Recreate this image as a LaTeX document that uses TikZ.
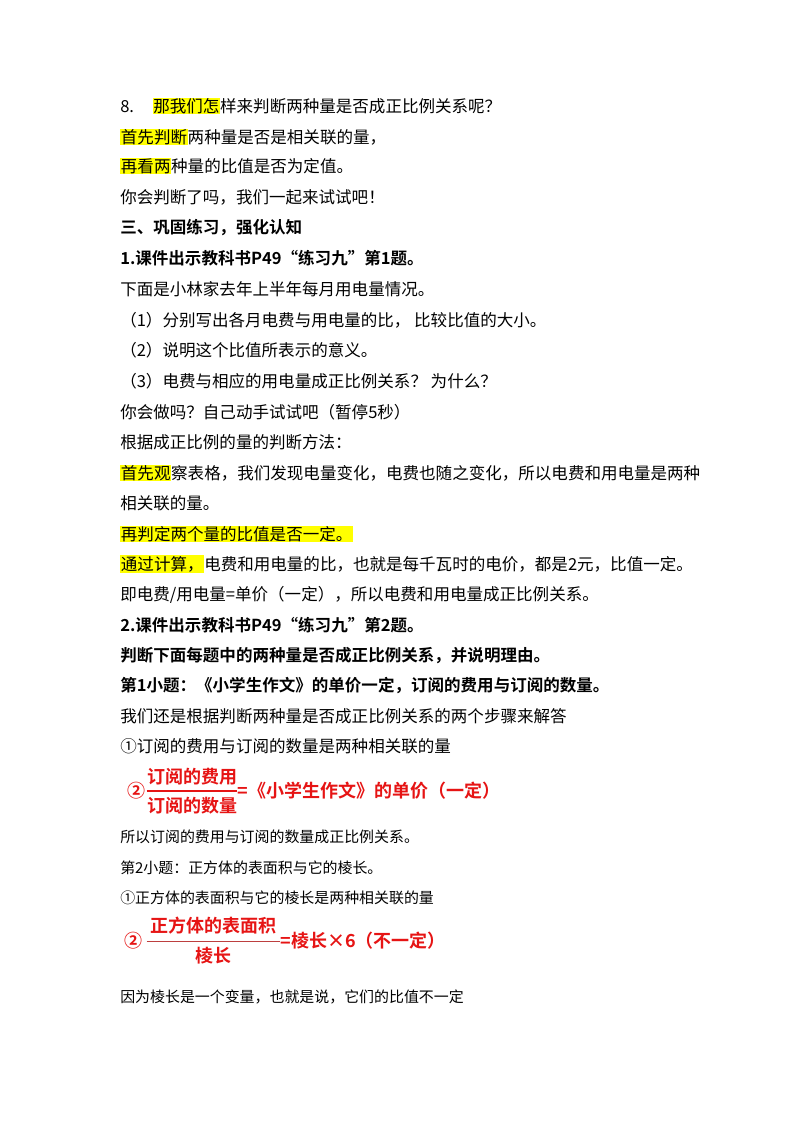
\documentclass[tikz,border=0pt]{standalone}
\usepackage{fontspec}
\usepackage{xcolor}
\setmainfont{Noto Sans CJK SC}
\newfontfamily\cjkb{Noto Sans CJK SC Bold}
\definecolor{hl}{RGB}{255,255,0}
\definecolor{rd}{RGB}{230,20,20}
\setlength{\fboxsep}{0.5pt}
\newcommand{\hlt}[1]{\colorbox{hl}{#1}}
\tikzset{ln/.style={anchor=west,inner sep=0pt,font=\fontsize{12.4}{14}\selectfont},
 bl/.style={ln,font=\fontsize{12.4}{14}\selectfont\cjkb},
 sm/.style={ln,font=\fontsize{11.2}{13}\selectfont},
 rf/.style={inner sep=0pt,text=rd,font=\fontsize{13.5}{15}\selectfont\cjkb}}
\begin{document}
\begin{tikzpicture}[x=0.75pt,y=-0.75pt]
\useasboundingbox (0,0) rectangle (800,1132);
\fill[white] (0,0) rectangle (800,1132);
\node[ln] (l1) at (120,106) {8.\hspace{14pt}\hlt{那我们怎}样来判断两种量是否成正比例关系呢？};
\node[ln] (l2) at (120,137) {\hlt{首先判断}两种量是否是相关联的量，};
\node[ln] (l3) at (120,166) {\hlt{再看两}种量的比值是否为定值。};
\node[ln] (l4) at (120,197) {你会判断了吗，我们一起来试试吧！};
\node[bl] (l5) at (120,228) {三、巩固练习，强化认知};
\node[bl] (l6) at (120,258) {1.课件出示教科书P49“练习九”第1题。};
\node[ln] (l7) at (120,289) {下面是小林家去年上半年每月用电量情况。};
\node[ln] (l8) at (120,320) {（1）分别写出各月电费与用电量的比， 比较比值的大小。};
\node[ln] (l9) at (120,350) {（2）说明这个比值所表示的意义。};
\node[ln] (l10) at (120,381) {（3）电费与相应的用电量成正比例关系？ 为什么？};
\node[ln] (l11) at (120,412) {你会做吗？自己动手试试吧（暂停5秒）};
\node[ln] (l12) at (120,442) {根据成正比例的量的判断方法：};
\node[ln] (l13) at (120,473) {\hlt{首先观}察表格，我们发现电量变化，电费也随之变化，所以电费和用电量是两种};
\node[ln] (l14) at (120,503) {相关联的量。};
\node[ln] (l15) at (120,534) {\hlt{再判定两个量的比值是否一定。}};
\node[ln] (l16) at (120,564) {\hlt{通过计算，}电费和用电量的比，也就是每千瓦时的电价，都是2元，比值一定。};
\node[ln] (l17) at (120,595) {即电费/用电量=单价（一定），所以电费和用电量成正比例关系。};
\node[bl] (l18) at (120,625) {2.课件出示教科书P49“练习九”第2题。};
\node[bl] (l19) at (120,656) {判断下面每题中的两种量是否成正比例关系，并说明理由。};
\node[bl] (l20) at (120,686) {第1小题：《小学生作文》的单价一定，订阅的费用与订阅的数量。};
\node[ln] (l21) at (120,716) {我们还是根据判断两种量是否成正比例关系的两个步骤来解答};
\node[ln] (l22) at (120,746) {①订阅的费用与订阅的数量是两种相关联的量};
% formula 1
\node[rf,anchor=west] (c1) at (127,791) {②};
\node[rf] (n1) at (192,777) {订阅的费用};
\node[rf] (d1) at (192,806) {订阅的数量};
\draw[rd,line width=0.8pt] (n1.west|-c1) coordinate (b1) -- (n1.east|-c1) coordinate (e1);
\node[rf,anchor=west] (r1) at (e1) {=《小学生作文》的单价（一定）};
\node[sm] (l23) at (120,837) {所以订阅的费用与订阅的数量成正比例关系。};
\node[sm] (l24) at (120,868) {第2小题：正方体的表面积与它的棱长。};
\node[sm] (l25) at (120,898) {①正方体的表面积与它的棱长是两种相关联的量};
% formula 2
\node[rf,anchor=west] (c2) at (124,941) {②};
\node[rf] (n2) at (213,926) {正方体的表面积};
\node[rf] (d2) at (213,956) {棱长};
\draw[rd!60!gray,line width=0.5pt] (n2.west|-c2) ++(-3,0) coordinate (b2) -- ([xshift=3pt]n2.east|-c2) coordinate (e2);
\node[rf,anchor=west] (r2) at (e2) {=棱长×6（不一定）};
\node[sm] (l26) at (120,997) {因为棱长是一个变量，也就是说，它们的比值不一定};
\end{tikzpicture}
\end{document}
